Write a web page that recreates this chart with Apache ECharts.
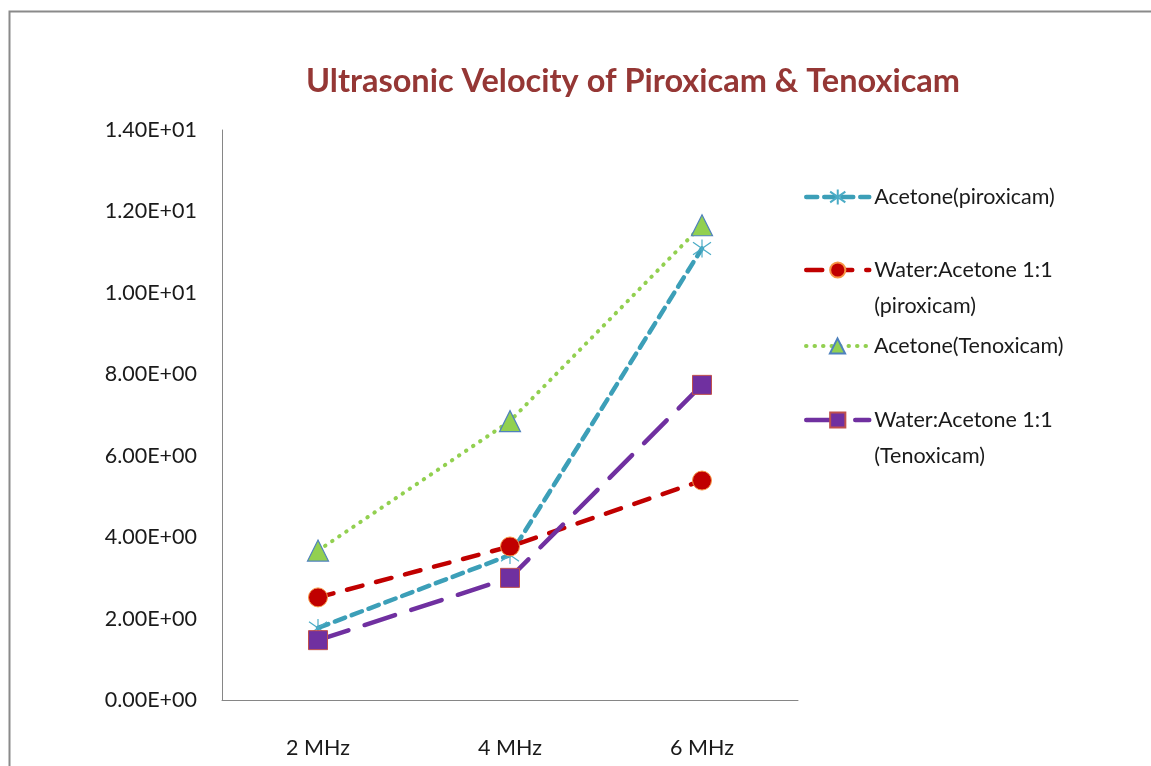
<!DOCTYPE html>
<html><head><meta charset="utf-8">
<script src="https://cdn.jsdelivr.net/npm/echarts@6/dist/echarts.min.js"></script>
<style>html,body{margin:0;padding:0;background:#fff}#c{width:1151px;height:766px}</style>
</head><body><div id="c"></div>
<script>
const categories = ['2 MHz', '4 MHz', '6 MHz'];
const acetonePiroxicam = [1.77, 3.56, 11.09];
const waterAcetonePiroxicam = [2.52, 3.77, 5.39];
const acetoneTenoxicam = [3.67, 6.85, 11.66];
const waterAcetoneTenoxicam = [1.47, 3.00, 7.74];
const seriesNames = ['Acetone(piroxicam)', 'Water:Acetone 1:1 (piroxicam)', 'Acetone(Tenoxicam)', 'Water:Acetone 1:1 (Tenoxicam)'];
const legendLabels = ['Acetone(piroxicam)', ' \nWater:Acetone 1:1\n(piroxicam)', 'Acetone(Tenoxicam)', ' \nWater:Acetone 1:1\n(Tenoxicam)'];

const FONT = 'Lato';
function sci(v) {
  if (v === 0) return '0.00E+00';
  const e = Math.floor(Math.log10(Math.abs(v)));
  const m = v / Math.pow(10, e);
  const sign = e < 0 ? '-' : '+';
  const ae = Math.abs(e);
  return m.toFixed(2) + 'E' + sign + (ae < 10 ? '0' + ae : '' + ae);
}
const starPath = 'path://M10 0 L10 20 M1 3 L19 17 M1 17 L19 3';

const chart = echarts.init(document.getElementById('c'), null, {renderer: 'canvas'});
const legendTops = [179, 216, 328, 366];
const legendLineW = [4.5, 4.5, 4, 4.5];
const legends = seriesNames.map((n, i) => ({
  data: [n],
  left: 804,
  top: legendTops[i],
  padding: 0,
  itemWidth: 63,
  itemHeight: 19,
  formatter: () => legendLabels[i],
  lineStyle: {width: legendLineW[i]},
  textStyle: {fontFamily: FONT, fontSize: 21.5, color: '#1a1a1a', lineHeight: 36}
}));

chart.setOption({
  animation: false,
  backgroundColor: '#fff',
  title: {
    text: 'Ultrasonic Velocity of Piroxicam & Tenoxicam',
    left: 628, top: 60, textAlign: 'center',
    textStyle: {fontFamily: FONT, fontWeight: 'bold', fontSize: 32.5, color: '#953735'}
  },
  graphic: [{
    type: 'rect', left: 7, top: 9, silent: true,
    shape: {width: 1200, height: 800},
    style: {fill: 'none', stroke: '#8a8a8a', lineWidth: 2}
  }],
  legend: legends,
  grid: {left: 222, top: 130, right: 353, bottom: 66},
  xAxis: {
    type: 'category', data: categories, boundaryGap: true,
    axisLine: {lineStyle: {color: '#868686', width: 1}},
    axisTick: {show: false},
    axisLabel: {margin: 37, fontFamily: FONT, fontSize: 21.5, color: '#1a1a1a'}
  },
  yAxis: {
    type: 'value', min: 0, max: 14, interval: 2,
    axisLine: {show: true, lineStyle: {color: '#868686', width: 1}},
    axisTick: {show: false},
    splitLine: {show: false},
    axisLabel: {margin: 25, fontFamily: FONT, fontSize: 21.5, color: '#1a1a1a', formatter: v => sci(v)}
  },
  series: [
    {name: seriesNames[0], type: 'line', data: acetonePiroxicam, z: 3,
     symbol: starPath, symbolSize: 18,
     itemStyle: {color: '#4BACC6', borderColor: '#4BACC6', borderWidth: 1.2},
     lineStyle: {color: '#3C9FB8', width: 4.5, type: [11, 7], cap: 'round'}},
    {name: seriesNames[1], type: 'line', data: waterAcetonePiroxicam, z: 4,
     symbol: 'circle', symbolSize: 19,
     itemStyle: {color: '#C00000', borderColor: '#F79646', borderWidth: 1},
     lineStyle: {color: '#C00000', width: 4.5, type: [16, 14], cap: 'round'}},
    {name: seriesNames[2], type: 'line', data: acetoneTenoxicam, z: 2,
     symbol: 'triangle', symbolSize: 21,
     itemStyle: {color: '#92D050', borderColor: '#4F81BD', borderWidth: 1.2},
     lineStyle: {color: '#92D050', width: 4, type: [0.5, 8], cap: 'round'}},
    {name: seriesNames[3], type: 'line', data: waterAcetoneTenoxicam, z: 5,
     symbol: 'rect', symbolSize: 19,
     itemStyle: {color: '#7030A0', borderColor: '#C0504D', borderWidth: 1},
     lineStyle: {color: '#7030A0', width: 4.5, type: [32, 17], cap: 'round'}}
  ]
});
</script></body></html>
